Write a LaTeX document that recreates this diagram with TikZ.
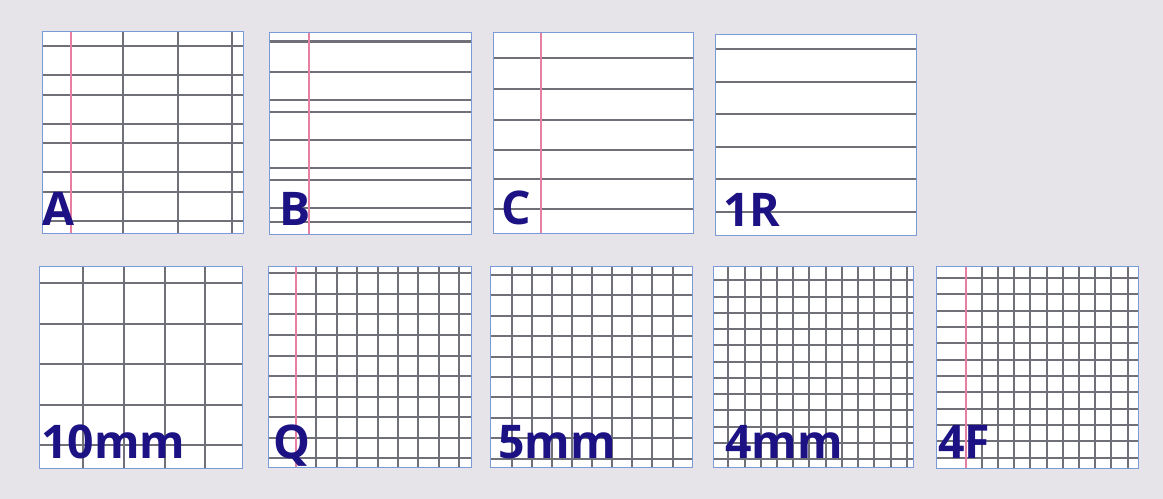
\documentclass[tikz,border=0pt]{standalone}
\usepackage{fontspec}
\setmainfont{Open Sans}
\definecolor{paperbg}{HTML}{E6E4E8}
\definecolor{edgeblue}{HTML}{7A9AD8}
\definecolor{rulegray}{HTML}{707078}
\definecolor{marginred}{HTML}{E67FA2}
\definecolor{tagblue}{HTML}{1C1284}
\begin{document}
\begin{tikzpicture}[x=0.25mm,y=-0.25mm,
    sheet/.style={fill=white},
    edge/.style={draw=edgeblue,line width=0.7pt},
    rule/.style={draw=rulegray,line width=0.5mm},
    margin/.style={draw=marginred,line width=0.3mm},
    tag/.style={anchor=base west,inner sep=0pt,text=tagblue,
        font=\fontsize{33}{33}\selectfont\bfseries}]
    \useasboundingbox[fill=paperbg] (0,0) rectangle (1163,499);

    \fill[sheet] (42,31) rectangle (243,233);
    \foreach \y in {46,75,95,124,143,172,192,221}
        \draw[rule] (42,\y) -- (243,\y);
    \foreach \x in {123,178,232}
        \draw[rule] (\x,31) -- (\x,233);
    \draw[margin] (71,31) -- (71,233);
    \draw[edge] (42,31) rectangle (243,233);
    \node[tag] (tagA) at (42,226) {A};

    \fill[sheet] (269,32) rectangle (471,234);
    \draw[rule,line width=0.75mm] (269,42) -- (471,42);
    \foreach \y in {72,100,112,140,168,180,208,222}
        \draw[rule] (269,\y) -- (471,\y);
    \draw[margin] (309,32) -- (309,234);
    \draw[edge] (269,32) rectangle (471,234);
    \node[tag] (tagB) at (279,226) {B};

    \fill[sheet] (493,32) rectangle (693,233);
    \foreach \y in {58,89,120,150,179,209}
        \draw[rule] (493,\y) -- (693,\y);
    \draw[margin] (541,32) -- (541,233);
    \draw[edge] (493,32) rectangle (693,233);
    \node[tag] (tagC) at (501,225) {C};

    \fill[sheet] (715,34) rectangle (916,235);
    \foreach \y in {49,82,114,147,179,212}
        \draw[rule] (715,\y) -- (916,\y);
    \draw[edge] (715,34) rectangle (916,235);
    \node[tag] (tagOneR) at (723,227) {1R};

    \fill[sheet] (39,266) rectangle (242,468);
    \foreach \y in {283,324,364,405,445}
        \draw[rule] (39,\y) -- (242,\y);
    \foreach \x in {83,124,165,205}
        \draw[rule] (\x,266) -- (\x,468);
    \draw[edge] (39,266) rectangle (242,468);
    \node[tag] (tagTen) at (41,459) {10mm};

    \fill[sheet] (268,266) rectangle (471,467);
    \foreach \i in {0,...,9}
        \draw[rule] (268,{round(273.3+20.55*\i)}) -- (471,{round(273.3+20.55*\i)});
    \foreach \i in {1,...,8}
        \draw[rule] ({round(296+20.4*\i)},266) -- ({round(296+20.4*\i)},467);
    \draw[margin] (296,266) -- (296,467);
    \draw[edge] (268,266) rectangle (471,467);
    \node[tag] (tagQ) at (273,459) {Q};

    \fill[sheet] (490,266) rectangle (692,467);
    \foreach \i in {0,...,9}
        \draw[rule] (490,{round(275+20.4*\i)}) -- (692,{round(275+20.4*\i)});
    \foreach \i in {0,...,8}
        \draw[rule] ({round(511.7+20.1*\i)},266) -- ({round(511.7+20.1*\i)},467);
    \draw[edge] (490,266) rectangle (692,467);
    \node[tag] (tagFive) at (498,459) {5mm};

    \fill[sheet] (713,266) rectangle (913,467);
    \foreach \i in {0,...,11}
        \draw[rule] (713,{round(280.3+16.27*\i)}) -- (913,{round(280.3+16.27*\i)});
    \foreach \i in {0,...,11}
        \draw[rule] ({round(728.3+16.22*\i)},266) -- ({round(728.3+16.22*\i)},467);
    \draw[edge] (713,266) rectangle (913,467);
    \node[tag] (tagFour) at (725,459) {4mm};

    \fill[sheet] (936,266) rectangle (1138,468);
    \foreach \i in {0,...,11}
        \draw[rule] (936,{round(277.8+16.35*\i)}) -- (1138,{round(277.8+16.35*\i)});
    \foreach \i in {1,...,10}
        \draw[rule] ({round(965.7+16.2*\i)},266) -- ({round(965.7+16.2*\i)},468);
    \draw[margin] (966,266) -- (966,468);
    \draw[edge] (936,266) rectangle (1138,468);
    \node[tag] (tagFourF) at (938,459) {4F};
\end{tikzpicture}
\end{document}
